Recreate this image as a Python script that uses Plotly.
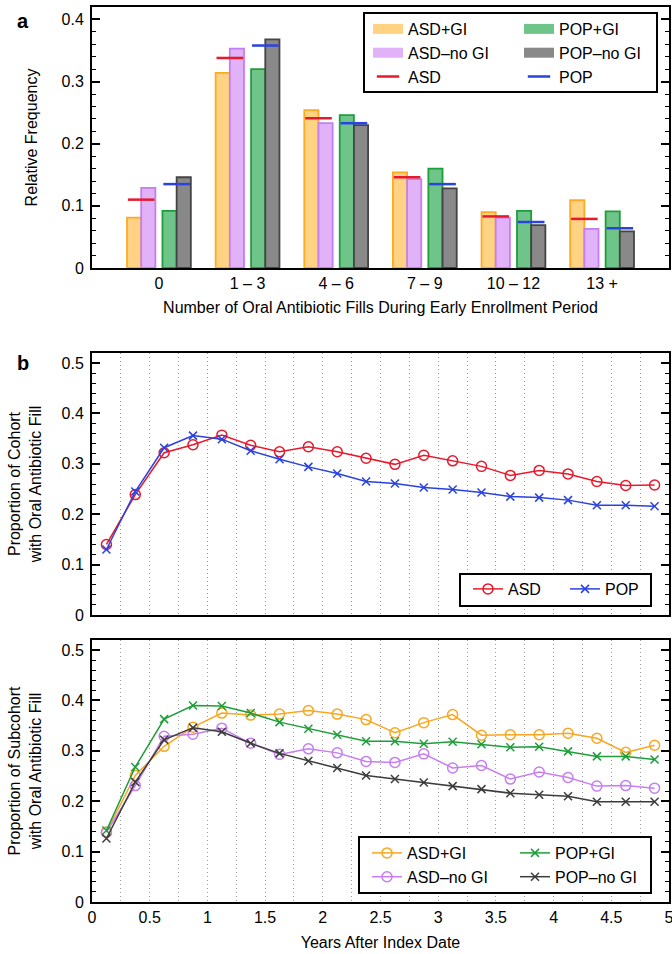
import numpy as np
import plotly.graph_objects as go

# ---------------- data ----------------
categories = ["0", "1 – 3", "4 – 6", "7 – 9", "10 – 12", "13 +"]
asd_gi = [0.081, 0.314, 0.254, 0.154, 0.090, 0.109]
asd_nogi = [0.129, 0.353, 0.233, 0.143, 0.081, 0.063]
pop_gi = [0.092, 0.320, 0.246, 0.160, 0.092, 0.091]
pop_nogi = [0.146, 0.368, 0.230, 0.128, 0.069, 0.059]
asd_all = [0.110, 0.338, 0.241, 0.146, 0.083, 0.079]
pop_all = [0.135, 0.358, 0.233, 0.135, 0.074, 0.064]

years = [0.125, 0.375, 0.625, 0.875, 1.125, 1.375, 1.625, 1.875, 2.125, 2.375,
         2.625, 2.875, 3.125, 3.375, 3.625, 3.875, 4.125, 4.375, 4.625, 4.875]
asd_prop = [0.140, 0.239, 0.322, 0.338, 0.357, 0.337, 0.324, 0.334, 0.324, 0.311,
            0.299, 0.317, 0.306, 0.295, 0.277, 0.287, 0.280, 0.265, 0.257, 0.258]
pop_prop = [0.130, 0.245, 0.332, 0.356, 0.349, 0.326, 0.309, 0.294, 0.281, 0.265,
            0.261, 0.253, 0.249, 0.243, 0.235, 0.233, 0.228, 0.218, 0.218, 0.216]
asd_gi_prop = [0.139, 0.251, 0.309, 0.347, 0.375, 0.371, 0.373, 0.380, 0.373, 0.362,
               0.336, 0.356, 0.372, 0.331, 0.332, 0.332, 0.335, 0.325, 0.297, 0.311]
pop_gi_prop = [0.142, 0.268, 0.363, 0.390, 0.389, 0.375, 0.357, 0.344, 0.332, 0.319,
               0.319, 0.314, 0.318, 0.313, 0.307, 0.308, 0.299, 0.289, 0.289, 0.283]
asd_nogi_prop = [0.138, 0.231, 0.329, 0.333, 0.345, 0.315, 0.293, 0.304, 0.296, 0.279,
                 0.277, 0.294, 0.266, 0.271, 0.244, 0.258, 0.247, 0.230, 0.231, 0.226]
pop_nogi_prop = [0.126, 0.238, 0.322, 0.346, 0.338, 0.315, 0.295, 0.280, 0.266, 0.251,
                 0.244, 0.237, 0.230, 0.224, 0.216, 0.213, 0.210, 0.199, 0.199, 0.199]

# ---------------- styles ----------------
FONT = "Liberation Sans, Arial, sans-serif"
RED = "#E8192C"
BLUE = "#2A42E0"
ORANGE = "#F9A620"
GREEN = "#1E9E3A"
VIOLET = "#C67EF2"
DARK = "#3C3C3C"

bar_styles = {
    "ASD+GI": dict(fill="#FFD383", line="#FFAA22", off=-0.36),
    "ASD–no GI": dict(fill="#E1B2F7", line="#C47EF0", off=-0.20),
    "POP+GI": dict(fill="#6FC589", line="#1E9E3A", off=0.04),
    "POP–no GI": dict(fill="#898989", line="#444444", off=0.20),
}
bar_values = {"ASD+GI": asd_gi, "ASD–no GI": asd_nogi, "POP+GI": pop_gi, "POP–no GI": pop_nogi}

pos = np.arange(len(categories))
fig = go.Figure()

# ---- panel a ----
for name, vals in bar_values.items():
    st = bar_styles[name]
    fig.add_trace(go.Bar(
        x=pos, y=vals, offset=st["off"], width=0.16, base=0,
        marker=dict(color=st["fill"], line=dict(color=st["line"], width=1.8)),
        showlegend=False, xaxis="x", yaxis="y", name=name))

fig.add_trace(go.Scatter(x=pos - 0.2, y=asd_all, mode="markers", name="ASD",
                         marker=dict(symbol="line-ew", size=19, line=dict(color=RED, width=2.5)),
                         xaxis="x", yaxis="y", showlegend=False))
fig.add_trace(go.Scatter(x=pos + 0.2, y=pop_all, mode="markers", name="POP",
                         marker=dict(symbol="line-ew", size=19, line=dict(color=BLUE, width=2.5)),
                         xaxis="x", yaxis="y", showlegend=False))

# legend entries for panel a
for name in ["ASD+GI", "ASD–no GI"]:
    fig.add_trace(go.Scatter(x=[None], y=[None], mode="lines", name=name,
                             line=dict(color=bar_styles[name]["fill"], width=12),
                             legend="legend", xaxis="x", yaxis="y"))
fig.add_trace(go.Scatter(x=[None], y=[None], mode="markers", name="ASD",
                         marker=dict(symbol="line-ew", size=19, line=dict(color=RED, width=2.5)),
                         legend="legend", xaxis="x", yaxis="y"))
for name in ["POP+GI", "POP–no GI"]:
    fig.add_trace(go.Scatter(x=[None], y=[None], mode="lines", name=name,
                             line=dict(color=bar_styles[name]["fill"], width=12),
                             legend="legend2", xaxis="x", yaxis="y"))
fig.add_trace(go.Scatter(x=[None], y=[None], mode="markers", name="POP",
                         marker=dict(symbol="line-ew", size=19, line=dict(color=BLUE, width=2.5)),
                         legend="legend2", xaxis="x", yaxis="y"))


# ---- panel b ----
def line_trace(x, y, name, color, symbol, legend, xa, ya):
    return go.Scatter(x=x, y=y, mode="lines+markers", name=name,
                      line=dict(color=color, width=1.5),
                      marker=dict(symbol=symbol, size=10 if "circle" in symbol else 8,
                                  color=color, line=dict(color=color, width=1.5)),
                      legend=legend, xaxis=xa, yaxis=ya)


fig.add_trace(line_trace(years, asd_prop, "ASD", RED, "circle-open", "legend3", "x2", "y2"))
fig.add_trace(line_trace(years, pop_prop, "POP", BLUE, "x-thin-open", "legend3", "x2", "y2"))

fig.add_trace(line_trace(years, asd_gi_prop, "ASD+GI", ORANGE, "circle-open", "legend4", "x3", "y3"))
fig.add_trace(line_trace(years, asd_nogi_prop, "ASD–no GI", VIOLET, "circle-open", "legend4", "x3", "y3"))
fig.add_trace(line_trace(years, pop_gi_prop, "POP+GI", GREEN, "x-thin-open", "legend5", "x3", "y3"))
fig.add_trace(line_trace(years, pop_nogi_prop, "POP–no GI", DARK, "x-thin-open", "legend5", "x3", "y3"))

# ---------------- layout ----------------
W, H = 672, 954
ML, MR, MT, MB = 92, 3, 7, 52
PW, PH = W - ML - MR, H - MT - MB


def fx(px):
    return (px - ML) / PW


def fy(py):
    return (H - MB - py) / PH


frame = dict(showline=True, linewidth=2, linecolor="black", zeroline=False, automargin=False)
ytick = dict(ticks="inside", ticklen=8, tickwidth=1.5, tickcolor="black",
             minor=dict(dtick=0.02, ticks="inside", ticklen=4, tickwidth=1.2, tickcolor="black"),
             mirror="allticks", showgrid=False, tickfont=dict(size=16, color="black"),
             ticklabelstandoff=3)
GRID = "#9A9A9A"
xgrid = dict(range=[0, 5], dtick=0.5, tick0=0, ticks="", showgrid=True, gridcolor=GRID,
             griddash="1px,3px", gridwidth=1, mirror=True,
             minor=dict(dtick=0.25, showgrid=True, gridcolor=GRID, griddash="1px,3px", gridwidth=1))

fig.update_layout(
    width=W, height=H,
    margin=dict(l=ML, r=MR, t=MT, b=MB),
    paper_bgcolor="white", plot_bgcolor="white",
    font=dict(family=FONT, size=16, color="black"),
    barmode="overlay",
    xaxis=dict(domain=[0, 1], anchor="y", range=[-0.755, 5.755], tickvals=pos, ticktext=categories,
               ticks="", showgrid=False, tickfont=dict(size=16), mirror=True,
               title=dict(text="Number of Oral Antibiotic Fills During Early Enrollment Period",
                          font=dict(size=16), standoff=11), **frame),
    yaxis=dict(domain=[fy(268), 1], anchor="x", range=[0, 0.42], dtick=0.1,
               title=dict(text="Relative Frequency", font=dict(size=16), standoff=20),
               **ytick, **frame),
    xaxis2=dict(domain=[0, 1], anchor="y2", showticklabels=False, **xgrid, **frame),
    yaxis2=dict(domain=[fy(615), fy(353)], anchor="x2", range=[0, 0.52], dtick=0.1,
                title=dict(text="Proportion of Cohort<br>with Oral Antibiotic Fill",
                           font=dict(size=16), standoff=16),
                **ytick, **frame),
    xaxis3=dict(domain=[0, 1], anchor="y3", showticklabels=True, tickfont=dict(size=16),
                ticklabeloverflow="allow",
                title=dict(text="Years After Index Date", font=dict(size=16), standoff=12),
                **xgrid, **frame),
    yaxis3=dict(domain=[0, fy(640)], anchor="x3", range=[0, 0.52], dtick=0.1,
                title=dict(text="Proportion of Subcohort<br>with Oral Antibiotic Fill",
                           font=dict(size=16), standoff=16),
                **ytick, **frame),
)

leg_common = dict(bgcolor="rgba(0,0,0,0)", borderwidth=0, font=dict(size=16), xanchor="left",
                  yanchor="top", tracegroupgap=0)
fig.update_layout(
    legend=dict(x=fx(368), y=fy(12), orientation="v", **leg_common),
    legend2=dict(x=fx(519), y=fy(12), orientation="v", **leg_common),
    legend3=dict(x=fx(468), y=fy(572), orientation="h", entrywidth=52, **leg_common),
    legend4=dict(x=fx(367), y=fy(836), orientation="v", **leg_common),
    legend5=dict(x=fx(515), y=fy(836), orientation="v", **leg_common),
)

# legend frames
boxes = [(364, 13, 657, 92), (460, 574, 651, 606), (359, 837, 651, 893)]
for x0, y0, x1, y1 in boxes:
    fig.add_shape(type="rect", xref="paper", yref="paper", x0=fx(x0), x1=fx(x1), y0=fy(y1), y1=fy(y0),
                  line=dict(color="black", width=2), fillcolor="white", layer="above")

# panel letters
for letter, py in [("a", 21), ("b", 363)]:
    fig.add_annotation(text=f"<b>{letter}</b>", xref="paper", yref="paper", x=fx(23), y=fy(py),
                       showarrow=False, font=dict(size=20, family=FONT), xanchor="center", yanchor="middle")

fig.write_html(
    "out.html",
    config={"displayModeBar": False},
    post_script=("document.body.style.margin='0';"
                 "document.body.style.overflow='hidden';"
                 "document.documentElement.style.overflow='hidden';"),
)
